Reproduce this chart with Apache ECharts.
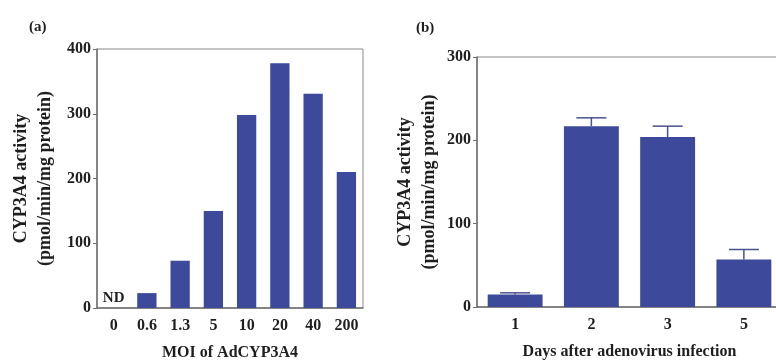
<!DOCTYPE html>
<html>
<head>
<meta charset="utf-8">
<script src="https://cdn.jsdelivr.net/npm/echarts@6/dist/echarts.min.js"></script>
<style>
  html, body { margin: 0; padding: 0; background: #fff; }
  #chart { width: 776px; height: 361px; }
</style>
</head>
<body>
<div id="chart"></div>
<script>
// panel (a): activity vs MOI
const moiLabels = ['0', '0.6', '1.3', '5', '10', '20', '40', '200'];
const moiActivity = [0, 23, 73, 150, 298, 378, 331, 210];
const moiNotes = ['ND', '', '', '', '', '', '', ''];

// panel (b): activity vs days after infection
const dayLabels = ['1', '2', '3', '5'];
const dayActivity = [15, 217, 204, 57];
const dayError = [2, 10, 13, 12];

const yTicksA = [0, 100, 200, 300, 400];
const yTicksB = [0, 100, 200, 300];

const barColor = '#3d4a9c';
const inkColor = '#1e1e1e';
const lineColor = '#6f6f6f';
const font = '"Liberation Serif", "Times New Roman", serif';

const chart = echarts.init(document.getElementById('chart'));

function valueAxis(gridIndex, ticks, gap) {
  return {
    type: 'value',
    gridIndex: gridIndex,
    min: ticks[0],
    max: ticks[ticks.length - 1],
    interval: ticks[1] - ticks[0],
    name: 'CYP3A4 activity\n(pmol/min/mg protein)',
    nameLocation: 'middle',
    nameRotate: 90,
    nameGap: gap,
    nameTextStyle: { fontFamily: font, fontWeight: 'bold', fontSize: 18, color: inkColor, lineHeight: 24 },
    axisLine: { show: true, lineStyle: { color: lineColor, width: 1.5 } },
    axisTick: { show: true, length: 4, lineStyle: { color: lineColor } },
    axisLabel: { fontFamily: font, fontWeight: 'bold', fontSize: 16, color: inkColor, margin: 6 },
    splitLine: { show: false }
  };
}

function categoryAxis(gridIndex, data, name) {
  return {
    type: 'category',
    gridIndex: gridIndex,
    data: data,
    name: name,
    nameLocation: 'middle',
    nameGap: 37,
    nameTextStyle: { fontFamily: font, fontWeight: 'bold', fontSize: 16, color: inkColor },
    axisLine: { show: true, lineStyle: { color: lineColor, width: 1.5 } },
    axisTick: { show: false },
    axisLabel: { fontFamily: font, fontWeight: 'bold', fontSize: 16, color: inkColor, margin: 10, interval: 0 }
  };
}

const option = {
  animation: false,
  backgroundColor: '#fff',
  title: [
    { text: '(a)', left: 24, top: 15, textStyle: { fontFamily: font, fontWeight: 'bold', fontSize: 15, color: inkColor } },
    { text: '(b)', left: 411, top: 16, textStyle: { fontFamily: font, fontWeight: 'bold', fontSize: 15, color: inkColor } }
  ],
  grid: [
    { left: 97, right: 413, top: 49, bottom: 53, outerBoundsMode: 'none', containLabel: false,
      show: true, borderColor: '#8a8a8a', borderWidth: 1 },
    { left: 477, right: -6, top: 57, bottom: 54, outerBoundsMode: 'none', containLabel: false,
      show: true, borderColor: '#8a8a8a', borderWidth: 1 }
  ],
  xAxis: [
    categoryAxis(0, moiLabels, 'MOI of AdCYP3A4'),
    categoryAxis(1, dayLabels, 'Days after adenovirus infection')
  ],
  yAxis: [
    valueAxis(0, yTicksA, 40),
    valueAxis(1, yTicksB, 36)
  ],
  series: [
    {
      type: 'bar',
      xAxisIndex: 0,
      yAxisIndex: 0,
      barWidth: '58%',
      itemStyle: { color: barColor },
      data: moiActivity.map(function (v, i) {
        return {
          value: v,
          label: {
            show: moiNotes[i] !== '',
            position: 'top',
            distance: 2,
            formatter: moiNotes[i],
            fontFamily: font,
            fontWeight: 'bold',
            fontSize: 15,
            color: inkColor
          }
        };
      })
    },
    {
      type: 'bar',
      xAxisIndex: 1,
      yAxisIndex: 1,
      barWidth: '72%',
      itemStyle: { color: barColor },
      data: dayActivity
    },
    {
      type: 'custom',
      xAxisIndex: 1,
      yAxisIndex: 1,
      z: 3,
      data: dayActivity.map(function (v, i) { return [i, v, v + dayError[i]]; }),
      renderItem: function (params, api) {
        const base = api.coord([api.value(0), api.value(1)]);
        const top = api.coord([api.value(0), api.value(2)]);
        const half = 15;
        const style = { stroke: '#4a5290', lineWidth: 1.5 };
        return {
          type: 'group',
          children: [
            { type: 'line', shape: { x1: base[0], y1: base[1], x2: top[0], y2: top[1] }, style: style },
            { type: 'line', shape: { x1: top[0] - half, y1: top[1], x2: top[0] + half, y2: top[1] }, style: style }
          ]
        };
      }
    }
  ]
};

chart.setOption(option);
</script>
</body>
</html>
